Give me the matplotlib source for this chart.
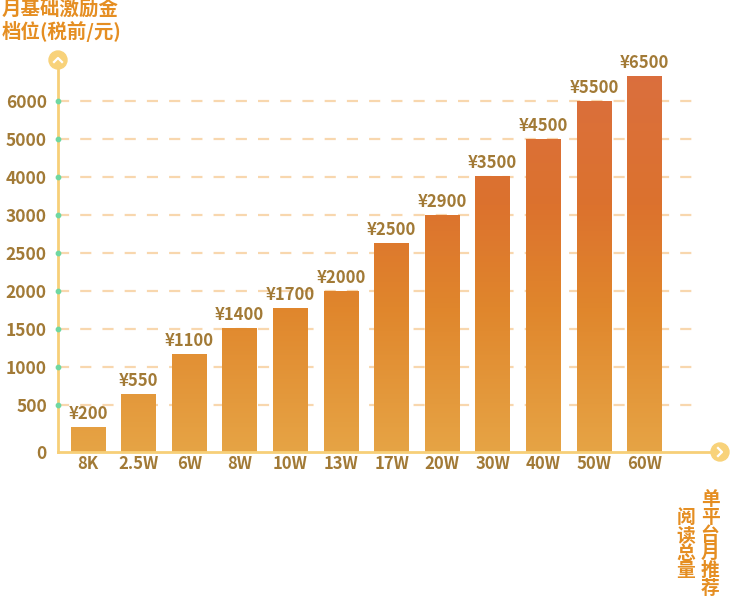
import numpy as np
import matplotlib
matplotlib.use("Agg")
import matplotlib.pyplot as plt
from matplotlib.colors import LinearSegmentedColormap
from matplotlib.patches import Circle
from matplotlib.lines import Line2D
from matplotlib.transforms import IdentityTransform

plt.rcParams['font.family'] = ['Noto Sans CJK SC', 'DejaVu Sans']

categories = ["8K", "2.5W", "6W", "8W", "10W", "13W", "17W", "20W", "30W", "40W", "50W", "60W"]
bar_heights = [266, 645, 1170, 1510, 1770, 2000, 2630, 3000, 4020, 5000, 6000, 6650]
value_labels = ["¥200", "¥550", "¥1100", "¥1400", "¥1700", "¥2000", "¥2500", "¥2900", "¥3500", "¥4500", "¥5500", "¥6500"]
y_ticks = [0, 500, 1000, 1500, 2000, 2500, 3000, 4000, 5000, 6000]

tick_pos = np.array([0, 47, 85, 123, 161, 199, 237, 275, 313, 351]) / 38.4
tv = np.array(y_ticks, dtype=float)

def fwd(v):
    v = np.asarray(v, dtype=float)
    out = np.interp(v, tv, tick_pos)
    out = np.where(v > 6000, tick_pos[-1] + (v - 6000) / 1000 * (38 / 38.4), out)
    out = np.where(v < 0, v / 500 * tick_pos[1], out)
    return out

def inv(p):
    p = np.asarray(p, dtype=float)
    out = np.interp(p, tick_pos, tv)
    out = np.where(p > tick_pos[-1], 6000 + (p - tick_pos[-1]) * 1000 * 38.4 / 38, out)
    out = np.where(p < 0, p / tick_pos[1] * 500, out)
    return out

W, H = 731, 611
fig = plt.figure(figsize=(W / 100, H / 100), dpi=100)
left_px, right_px, bot_px, top_px = 58, 720, 452, 60
ax = fig.add_axes([left_px / W, 1 - bot_px / H, (right_px - left_px) / W, (bot_px - top_px) / H])
ax.set_yscale('function', functions=(fwd, inv))
x = np.arange(len(categories))
XL = (-30 / 50.6, (right_px - 88) / 50.6)
YL = (0, float(inv((bot_px - top_px) / 38.4)))

brown = "#A27A36"
orange = "#E58E22"

for t in y_ticks[1:]:
    ax.plot([XL[0], 12.0], [t, t], color="#F8D7AE", lw=1.6, ls=(0, (5, 5)), zorder=1)

bars = ax.bar(x, bar_heights, width=0.69, color="none", zorder=2)
cmap = LinearSegmentedColormap.from_list("g", [(0, "#E6A445"), (0.35, "#E0862C"), (0.6, "#DC722E"), (1, "#DA6E42")])
grad = np.linspace(0, 1, 256).reshape(-1, 1)
for b in bars:
    im = ax.imshow(grad, cmap=cmap, aspect="auto", extent=[0, 1, 0, 1.05], origin="lower",
                   transform=ax.transAxes, zorder=2)
    im.set_clip_path(b)
ax.set_xlim(*XL)
ax.set_ylim(*YL)

for xi, h, lab in zip(x, bar_heights, value_labels):
    ax.annotate(lab, (xi, h), xytext=(0, 3), textcoords="offset points", ha="center", va="bottom",
                color=brown, fontsize=12, fontweight="bold")

ax.set_yticks(y_ticks)
ax.set_yticklabels([str(t) for t in y_ticks], color=brown, fontsize=12.5, fontweight="bold")
ax.set_xticks(x)
ax.set_xticklabels(categories, color=brown, fontsize=12, fontweight="bold")
ax.tick_params(length=0, pad=2)
ax.tick_params(axis='y', pad=8)
for s in ["top", "right"]:
    ax.spines[s].set_visible(False)
for s in ["left", "bottom"]:
    ax.spines[s].set_color("#F7CF78")
    ax.spines[s].set_linewidth(2)
    ax.spines[s].set_zorder(3)
ax.scatter([XL[0]] * (len(y_ticks) - 1), y_ticks[1:], s=10, color="#6FD7A2", zorder=4, clip_on=False)

# arrow circles (pixel coordinates, y from bottom)
ident = IdentityTransform()
for (cx, cy, kind) in [(left_px, H - top_px, "up"), (right_px, H - bot_px, "right")]:
    fig.patches.append(Circle((cx, cy), 9, transform=ident, color="#F8D27A", zorder=5))
    if kind == "up":
        xs, ys = [cx - 4, cx, cx + 4], [cy - 2, cy + 2, cy - 2]
    else:
        xs, ys = [cx - 2, cx + 2, cx - 2], [cy + 4, cy, cy - 4]
    fig.lines.append(Line2D(xs, ys, transform=ident, color="white", lw=1.6, zorder=6))

fig.text(2 / W, 1 - 0 / H, "月基础激励金\n档位(税前/元)", ha="left", va="top", color=orange,
         fontsize=14, fontweight="bold", linespacing=1.1)
fig.text(710 / W, 1 - 490 / H, "\n".join("单平台月推荐"), ha="center", va="top", color=orange,
         fontsize=13.5, fontweight="bold", linespacing=0.92)
fig.text(686 / W, 1 - 508 / H, "\n".join("阅读总量"), ha="center", va="top", color=orange,
         fontsize=13.5, fontweight="bold", linespacing=0.92)

fig.savefig("out.png", dpi=100)
